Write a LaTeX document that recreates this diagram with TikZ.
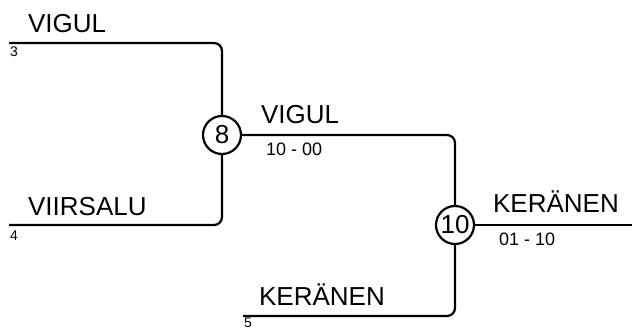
\documentclass[tikz,border=0pt]{standalone}
\usepackage{fontspec}
\setmainfont{Liberation Sans}
\usepackage{tikz}

\begin{document}
\begin{tikzpicture}[x=1pt, y=-1pt, line width=2.2pt,
		match/.style={circle, draw, minimum size=38pt, inner sep=0pt, font=\fontsize{26}{28}\selectfont},
		player/.style={anchor=base west, inner sep=0pt, font=\fontsize{26}{28}\selectfont},
		seed/.style={anchor=base west, inner sep=0pt, font=\fontsize{14}{16}\selectfont},
		score/.style={anchor=base west, inner sep=0pt, font=\fontsize{18}{20}\selectfont}]
		\useasboundingbox (0,0) rectangle (632,329);
		% entries
		\coordinate (p3) at (9,43);
		\coordinate (p4) at (9,225);
		\coordinate (p5) at (243,316);
		\coordinate (win) at (632,225);
		% matches
		\node[match] (m8) at (222,135) {8};
		\node[match] (m10) at (455,225) {10};
		% bracket lines
		\draw[rounded corners=8pt] (p3) -| (m8);
		\draw[rounded corners=8pt] (p4) -| (m8);
		\draw[rounded corners=8pt] (m8) -| (m10);
		\draw[rounded corners=8pt] (p5) -| (m10);
		\draw (m10) -- (win);
		% names
		\node[player] (n3) at (27,33) {VIGUL};
		\node[player] (n4) at (27,215) {VIIRSALU};
		\node[player] (n8) at (260,123) {VIGUL};
		\node[player] (n5) at (258,305) {KERÄNEN};
		\node[player] (n10) at (492,212) {KERÄNEN};
		% seeds and scores
		\node[seed] (s3) at (9,57) {3};
		\node[seed] (s4) at (9,240) {4};
		\node[seed] (s5) at (243,327) {5};
		\node[score] (r8) at (265,155) {10 - 00};
		\node[score] (r10) at (498,245) {01 - 10};
	\end{tikzpicture}
\end{document}
